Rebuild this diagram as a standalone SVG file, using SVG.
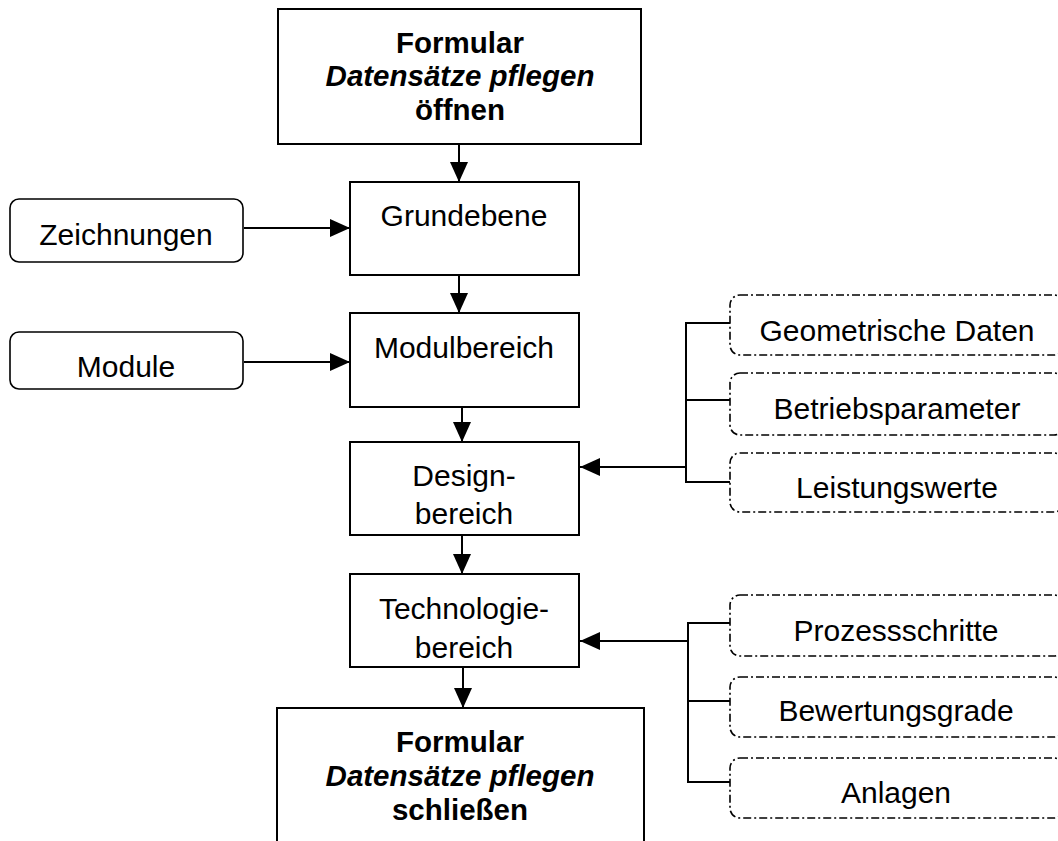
<svg xmlns="http://www.w3.org/2000/svg" width="1058" height="841" viewBox="0 0 1058 841">
  <style>
    text { font-family: "Liberation Sans", Arial, sans-serif; fill: #000; }
    .lbl { font-size: 30px; text-anchor: middle; }
    .ttl { font-size: 29.5px; font-weight: bold; text-anchor: middle; }
    .ttl .it { font-style: italic; }
    .box { fill: #fff; stroke: #000; stroke-width: 2; }
    .src { fill: #fff; stroke: #000; stroke-width: 1.6; }
    .attr { fill: #fff; stroke: #000; stroke-width: 1.6; stroke-dasharray: 8 3 2 3; }
    .wire { fill: none; stroke: #000; stroke-width: 2; }
    .arrow { fill: none; stroke: #000; stroke-width: 2; marker-end: url(#head); }
  </style>
  <defs>
    <marker id="head" markerUnits="userSpaceOnUse" markerWidth="20" markerHeight="20" viewBox="0 0 20 20" refX="20" refY="10" orient="auto">
      <path d="M0,1 L20,10 L0,19 Z" fill="#000"/>
    </marker>
  </defs>

  <rect width="1058" height="841" fill="#fff"/>

  <!-- connectors -->
  <g id="connectors">
    <line class="arrow" x1="459" y1="144" x2="459" y2="182"/>
    <line class="arrow" x1="459" y1="275" x2="459" y2="313"/>
    <line class="arrow" x1="462" y1="407" x2="462" y2="442"/>
    <line class="arrow" x1="462" y1="535" x2="462" y2="574"/>
    <line class="arrow" x1="463" y1="667" x2="463" y2="708"/>
    <line class="arrow" x1="244" y1="228" x2="350" y2="228"/>
    <line class="arrow" x1="244" y1="362" x2="350" y2="362"/>
    <!-- design attributes bracket -->
    <path class="wire" d="M730,323 H686 V482 H730 M686,400 H730"/>
    <line class="arrow" x1="686" y1="467" x2="580" y2="467"/>
    <!-- technology attributes bracket -->
    <path class="wire" d="M730,623 H688 V782 H730 M688,701 H730"/>
    <line class="arrow" x1="688" y1="641" x2="580" y2="641"/>
  </g>

  <g id="open-form">
    <rect class="box" x="278" y="9" width="363" height="135"/>
    <text class="ttl" x="460" y="53">Formular</text>
    <text class="ttl" x="460" y="86"><tspan class="it">Datensätze pflegen</tspan></text>
    <text class="ttl" x="460" y="120">öffnen</text>
  </g>

  <g id="grundebene">
    <rect class="box" x="350" y="182" width="229" height="93"/>
    <text class="lbl" x="464" y="226">Grundebene</text>
  </g>

  <g id="zeichnungen">
    <rect class="src" x="10" y="199" width="233" height="63" rx="9"/>
    <text class="lbl" x="126" y="245">Zeichnungen</text>
  </g>

  <g id="modulbereich">
    <rect class="box" x="350" y="313" width="229" height="94"/>
    <text class="lbl" x="464" y="358">Modulbereich</text>
  </g>

  <g id="module">
    <rect class="src" x="10" y="332" width="233" height="57" rx="9"/>
    <text class="lbl" x="126" y="377">Module</text>
  </g>

  <g id="designbereich">
    <rect class="box" x="350" y="442" width="229" height="93"/>
    <text class="lbl" x="464" y="486">Design-</text>
    <text class="lbl" x="464" y="524">bereich</text>
  </g>

  <g id="technologiebereich">
    <rect class="box" x="350" y="574" width="229" height="93"/>
    <text class="lbl" x="464" y="619">Technologie-</text>
    <text class="lbl" x="464" y="658">bereich</text>
  </g>

  <g id="close-form">
    <rect class="box" x="277" y="708" width="367" height="150"/>
    <text class="ttl" x="460" y="752">Formular</text>
    <text class="ttl" x="460" y="786"><tspan class="it">Datensätze pflegen</tspan></text>
    <text class="ttl" x="460" y="820">schließen</text>
  </g>

  <g id="geometrische-daten">
    <rect class="attr" x="730" y="295" width="334" height="60" rx="10"/>
    <text class="lbl" x="897" y="341">Geometrische Daten</text>
  </g>
  <g id="betriebsparameter">
    <rect class="attr" x="730" y="373" width="334" height="62" rx="10"/>
    <text class="lbl" x="897" y="419">Betriebsparameter</text>
  </g>
  <g id="leistungswerte">
    <rect class="attr" x="730" y="453" width="334" height="59" rx="10"/>
    <text class="lbl" x="897" y="498">Leistungswerte</text>
  </g>

  <g id="prozessschritte">
    <rect class="attr" x="730" y="595" width="334" height="61" rx="10"/>
    <text class="lbl" x="896" y="641">Prozessschritte</text>
  </g>
  <g id="bewertungsgrade">
    <rect class="attr" x="730" y="677" width="334" height="60" rx="10"/>
    <text class="lbl" x="896" y="721">Bewertungsgrade</text>
  </g>
  <g id="anlagen">
    <rect class="attr" x="730" y="758" width="334" height="60" rx="10"/>
    <text class="lbl" x="896" y="803">Anlagen</text>
  </g>
</svg>
